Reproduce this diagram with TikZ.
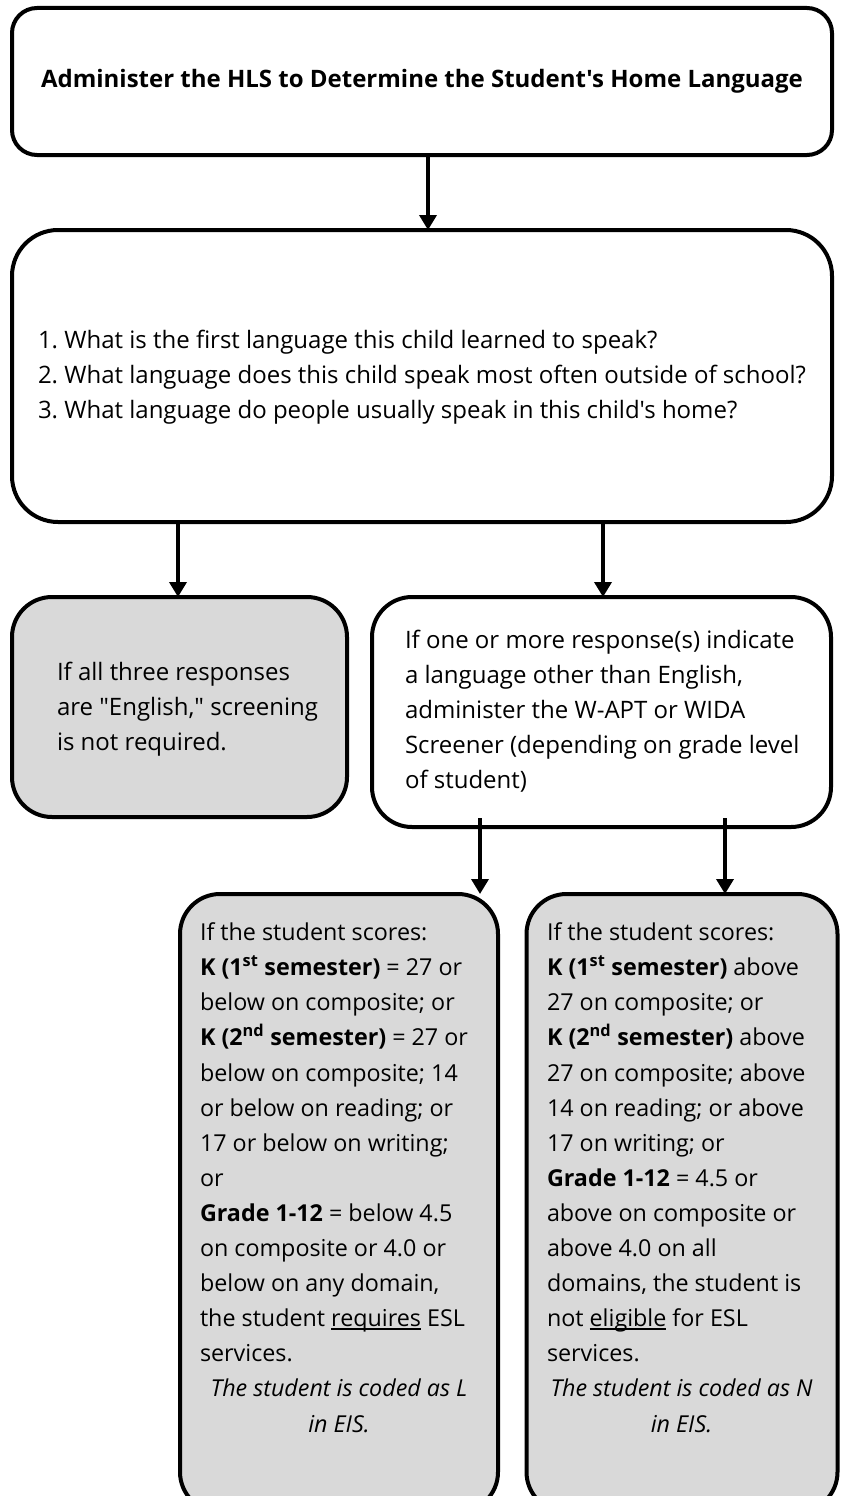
\documentclass[tikz,border=0pt]{standalone}
\usepackage{fontspec}
\setmainfont{Open Sans}[Ligatures=TeXOff]
\usetikzlibrary{arrows.meta,calc}
\definecolor{boxgray}{HTML}{D9D9D9}
\newcommand\myul[1]{\setbox0\hbox{#1}\rlap{\rule[-3pt]{\wd0}{1.3pt}}\box0\relax}
\tikzset{
  flowbox/.style={draw, line width=4pt, inner sep=0pt, outer sep=0pt, rounded corners=#1},
  arr/.style={line width=3.6pt, -{Triangle[width=17pt,length=15pt]}},
  txt/.style={inner sep=0pt, outer sep=0pt, align=left, anchor=base west, font=\fontsize{24}{35}\selectfont},
  smalltxt/.style={txt, font=\fontsize{23.3}{35.1}\selectfont},
}
\begin{document}
\begin{tikzpicture}[x=1pt,y=-1pt]
\useasboundingbox (0,0) rectangle (844,1496);
\clip (0,0) rectangle (844,1496);
\fill[white] (0,0) rectangle (844,1496);
% boxes
\node[flowbox=25pt, minimum width=820pt, minimum height=147pt] (box1) at (422,81.5) {};
\node[flowbox=46pt, minimum width=820pt, minimum height=292pt] (box2) at (422,376) {};
\node[flowbox=40pt, fill=boxgray, minimum width=335pt, minimum height=220pt] (box3) at (179.5,707) {};
\node[flowbox=40pt, minimum width=459pt, minimum height=230pt] (box4) at (601.5,712) {};
\node[flowbox=40pt, fill=boxgray, minimum width=318pt, minimum height=618pt] (box5) at (339,1203) {};
\node[flowbox=40pt, fill=boxgray, minimum width=311pt, minimum height=618pt] (box6) at (682,1203) {};
% texts
\node[txt, anchor=base, font=\fontsize{24}{35}\selectfont\bfseries] (t1) at (422,88)
  {Administer the HLS to Determine the Student's Home Language};
\node[txt] (t2) at (38,418)
  {1.\ What is the first language this child learned to speak?\\
   2.\ What language does this child speak most often outside of school?\\
   3.\ What language do people usually speak in this child's home?};
\node[txt] (t3) at (57,750)
  {If all three responses\\ are "English," screening\\ is not required.};
\node[txt] (t4) at (405,788)
  {If one or more response(s) indicate\\ a language other than English,\\
   administer the W-APT or WIDA\\ Screener (depending on grade level\\ of student)};
\node[smalltxt] (t5) at (200,1432)
  {If the student scores:\\
   \textbf{K (1\textsuperscript{st} semester)} = 27 or\\
   below on composite; or\\
   \textbf{K (2\textsuperscript{nd} semester)} = 27 or\\
   below on composite; 14\\
   or below on reading; or\\
   17 or below on writing;\\
   or\\
   \textbf{Grade 1-12} = below 4.5\\
   on composite or 4.0 or\\
   below on any domain,\\
   the student \myul{requires} ESL\\
   services.\\
   \makebox[278pt]{\itshape The student is coded as L}\\
   \makebox[278pt]{\itshape in EIS.}};
\node[smalltxt] (t6) at (547,1432)
  {If the student scores:\\
   \textbf{K (1\textsuperscript{st} semester)} above\\
   27 on composite; or\\
   \textbf{K (2\textsuperscript{nd} semester)} above\\
   27 on composite; above\\
   14 on reading; or above\\
   17 on writing; or\\
   \textbf{Grade 1-12} = 4.5 or\\
   above on composite or\\
   above 4.0 on all\\
   domains, the student is\\
   not \myul{eligible} for ESL\\
   services.\\
   \makebox[269pt]{\itshape The student is coded as N}\\
   \makebox[269pt]{\itshape in EIS.}};
% arrows
\coordinate (c1) at (428,0);
\coordinate (c2) at (178,0);
\coordinate (c3) at (603,0);
\coordinate (c4) at (480,0);
\coordinate (c5) at (725,0);
\draw[arr] (box1.south -| c1) -- (box2.north -| c1);
\draw[arr] (box2.south -| c2) -- (box3.north -| c2);
\draw[arr] (box2.south -| c3) -- (box4.north -| c3);
\draw[arr] ($(box4.south -| c4)+(0,-9)$) -- (box5.north -| c4);
\draw[arr] ($(box4.south -| c5)+(0,-9)$) -- (box6.north -| c5);
\end{tikzpicture}
\end{document}
